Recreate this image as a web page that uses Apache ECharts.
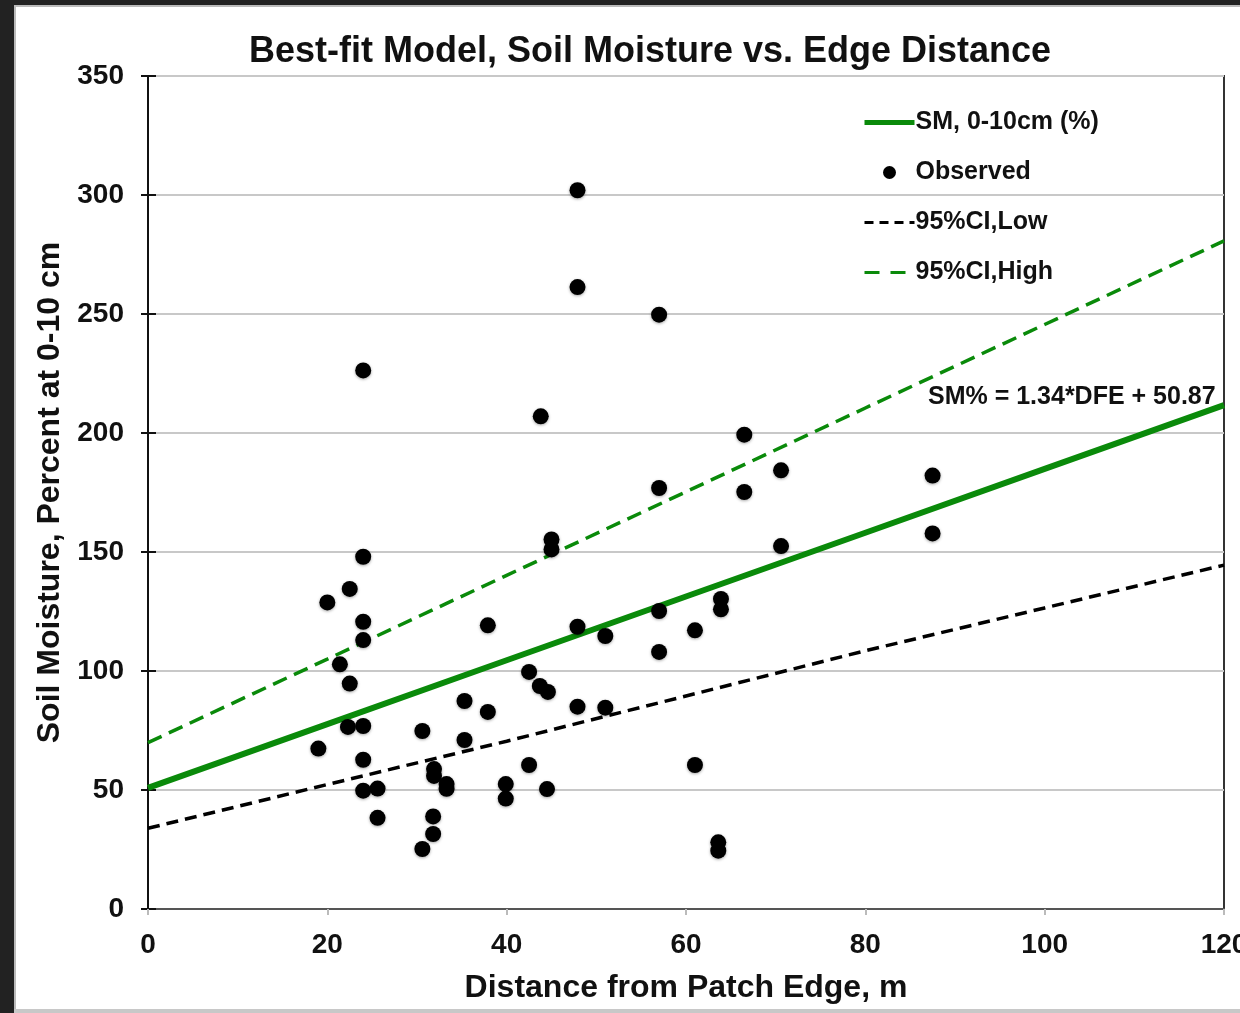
<!DOCTYPE html>
<html>
<head>
<meta charset="utf-8">
<script src="https://cdn.jsdelivr.net/npm/echarts@6/dist/echarts.min.js"></script>
<style>
html,body{margin:0;padding:0;width:1240px;height:1013px;background:#222;overflow:hidden;}
#paper{position:absolute;left:14px;top:5px;width:1226px;height:1004px;background:#fff;border-left:2px solid #bbb;border-top:2px solid #bbb;box-sizing:border-box;}
#foot{position:absolute;left:14px;top:1009px;width:1226px;height:4px;background:#c8c8c8;}
#chart{position:absolute;left:0;top:0;width:1240px;height:1013px;}
</style>
</head>
<body>
<div id="paper"></div>
<div id="foot"></div>
<div id="chart"></div>
<script>
// Observed points (distance from edge, m ; soil moisture %)
const obsX = [47.9, 47.9, 57.0, 24.0, 43.8, 66.5, 70.6, 87.5, 57.0, 66.5,
              45.0, 45.0, 70.6, 87.5, 24.0, 22.5, 20.0, 63.9, 63.9, 24.0,
              24.0, 37.9, 47.9, 57.0, 51.0, 61.0, 57.0, 21.4, 22.5, 42.5,
              43.7, 44.6, 35.3, 37.9, 47.9, 51.0, 22.3, 24.0, 30.6, 35.3,
              19.0, 24.0, 42.5, 61.0, 31.9, 31.9, 33.3, 33.3, 24.0, 25.6,
              39.9, 39.9, 44.5, 25.6, 31.8, 31.8, 30.6, 63.6, 63.6];
const obsY = [302.0, 261.3, 249.7, 226.3, 207.0, 199.3, 184.3, 182.1, 176.9, 175.2,
              155.3, 151.1, 152.5, 157.8, 148.0, 134.5, 128.8, 130.3, 125.9, 120.7,
              113.0, 119.2, 118.6, 125.2, 114.7, 117.1, 108.0, 102.8, 94.7, 99.6,
              93.7, 91.2, 87.4, 82.8, 85.0, 84.6, 76.5, 76.9, 74.8, 71.0,
              67.4, 62.7, 60.5, 60.5, 58.8, 55.9, 52.5, 50.5, 49.7, 50.6,
              52.5, 46.4, 50.4, 38.3, 38.9, 31.5, 25.2, 28.0, 24.5];

// Model lines
const lineX   = [0, 20, 40, 60, 80, 100, 120];
const fitY    = [50.9, 77.7, 104.5, 131.3, 158.1, 184.9, 211.7];
const lowY    = [33.9, 52.3, 70.5, 89.5, 108.5, 126.5, 144.5];
const highY   = [69.9, 105.0, 140.2, 175.3, 210.5, 245.6, 280.7];

const names = ['SM, 0-10cm (%)', 'Observed', '95%CI,Low', '95%CI,High'];
const titleText = 'Best-fit Model, Soil Moisture vs. Edge Distance';
const xTitle = 'Distance from Patch Edge, m';
const yTitle = 'Soil Moisture, Percent at 0-10 cm';
const eqText = 'SM% = 1.34*DFE + 50.87';

const pair = (xs, ys) => xs.map((x, i) => [x, ys[i]]);
const FONT = '"Liberation Sans", Arial, sans-serif';
const GREEN = '#0a8a0a';
const NOSYM = {color: 'rgba(0,0,0,0)', borderWidth: 0};

const chart = echarts.init(document.getElementById('chart'), null, {renderer: 'canvas'});
chart.setOption({
  backgroundColor: 'transparent',
  animation: false,
  textStyle: {fontFamily: FONT},
  title: {
    text: titleText, left: 645, top: 29, textAlign: 'center',
    textStyle: {fontFamily: FONT, fontWeight: 'bold', fontSize: 36, color: '#111'}
  },
  grid: {left: 148, top: 76, right: 16, bottom: 104, show: true, outerBoundsMode: 'none',
         borderColor: '#333', borderWidth: 2, backgroundColor: 'transparent'},
  legend: {
    orient: 'vertical', left: 857, top: 105, itemGap: 25,
    itemWidth: 50, itemHeight: 13,
    data: [
      {name: names[0], itemStyle: NOSYM, lineStyle: {color: GREEN, width: 5, type: 'solid'}},
      {name: names[1]},
      {name: names[2], itemStyle: NOSYM, lineStyle: {color: '#000', width: 3, type: [9, 6]}},
      {name: names[3], itemStyle: NOSYM, lineStyle: {color: GREEN, width: 3, type: [15, 11]}}
    ],
    textStyle: {fontFamily: FONT, fontWeight: 'bold', fontSize: 25, color: '#111', lineHeight: 25, padding: [0,0,0,-4]}
  },
  xAxis: {
    type: 'value', min: 0, max: 120, interval: 20,
    name: xTitle, nameLocation: 'middle', nameGap: 63,
    nameTextStyle: {fontFamily: FONT, fontWeight: 'bold', fontSize: 32, color: '#111'},
    axisLine: {show: true, onZero: false, lineStyle: {color: '#555', width: 2}},
    axisTick: {show: true, length: 6, lineStyle: {color: '#bbb', width: 2}},
    axisLabel: {fontFamily: FONT, fontWeight: 'bold', fontSize: 28, color: '#111', margin: 22},
    splitLine: {show: false}
  },
  yAxis: [{
    type: 'value', min: 0, max: 350, interval: 50,
    name: yTitle, nameLocation: 'middle', nameGap: 77, nameRotate: 90,
    nameTextStyle: {fontFamily: FONT, fontWeight: 'bold', fontSize: 32, color: '#111'},
    axisLine: {show: true, lineStyle: {color: '#111', width: 2}},
    axisTick: {show: true, length: 7, lineStyle: {color: '#111', width: 2}},
    axisLabel: {fontFamily: FONT, fontWeight: 'bold', fontSize: 28, color: '#111', margin: 24},
    splitLine: {show: true, lineStyle: {color: '#c8c8c8', width: 2}}
  }, {
    type: 'value', min: 0, max: 350, interval: 50, position: 'left',
    axisLine: {show: false},
    axisTick: {show: true, inside: true, length: 8, lineStyle: {color: '#111', width: 2}},
    axisLabel: {show: false},
    splitLine: {show: false}
  }],
  graphic: [{
    type: 'text', left: 928, top: 385, z: 100,
    style: {text: eqText, fontFamily: FONT, fontWeight: 'bold', fontSize: 25, fill: '#111'}
  }],
  series: [
    {
      name: names[0], type: 'line', data: pair(lineX, fitY), symbol: 'none',
      lineStyle: {color: GREEN, width: 6}, itemStyle: {color: GREEN}, z: 3
    },
    {
      name: names[1], type: 'scatter', data: pair(obsX, obsY), symbol: 'circle', symbolSize: 16,
      itemStyle: {color: '#000', opacity: 1, shadowBlur: 3, shadowColor: 'rgba(0,0,0,0.35)', shadowOffsetY: 1}, z: 4
    },
    {
      name: names[2], type: 'line', data: pair(lineX, lowY), symbol: 'none',
      lineStyle: {color: '#000', width: 3.5, type: [12, 7]}, itemStyle: {color: '#000'}, z: 3
    },
    {
      name: names[3], type: 'line', data: pair(lineX, highY), symbol: 'none',
      lineStyle: {color: GREEN, width: 3.5, type: [15, 8]}, itemStyle: {color: GREEN}, z: 3
    }
  ]
});
</script>
</body>
</html>
